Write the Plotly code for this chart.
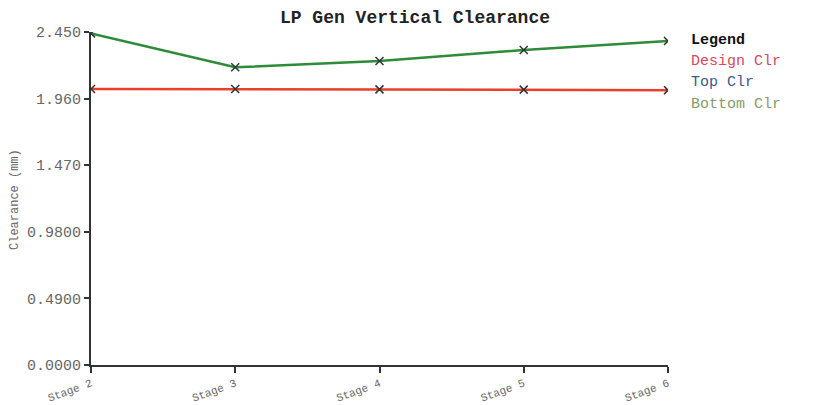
import plotly.graph_objects as go

stages = ["Stage 2", "Stage 3", "Stage 4", "Stage 5", "Stage 6"]
design_clr = [2.031, 2.030, 2.028, 2.026, 2.022]
bottom_clr = [2.440, 2.190, 2.237, 2.318, 2.384]
y_ticks = [0.0, 0.49, 0.98, 1.47, 1.96, 2.45]
y_tick_text = ["0.0000", "0.4900", "0.9800", "1.470", "1.960", "2.450"]
legend_items = ["Design Clr", "Top Clr", "Bottom Clr"]
legend_colors = ["#d9485a", "#3a5a8a", "#8a9a6a"]

font_fam = "Liberation Mono, Courier New, monospace"
x_idx = list(range(len(stages)))

# page body has an 8px margin: figure occupies absolute (8,8)-(814,405)
OFF = 8
W, H = 814 - OFF, 405 - OFF
PL, PR, PT, PB = 91, 668, 32, 365  # absolute plot-area edges

def to_paper(px, py):
    return (px - PL) / (PR - PL), (PB - py) / (PB - PT)

fig = go.Figure()
fig.add_trace(go.Scatter(
    x=x_idx, y=bottom_clr, mode="lines+markers", name="Bottom Clr",
    line=dict(color="#2e8b3a", width=2.5),
    marker=dict(symbol="x-thin", size=8, line=dict(color="#333333", width=1.5)),
))
fig.add_trace(go.Scatter(
    x=x_idx, y=design_clr, mode="lines+markers", name="Design Clr",
    line=dict(color="#e8402a", width=2.5),
    marker=dict(symbol="x-thin", size=8, line=dict(color="#333333", width=1.5)),
))

anns = []
x0, y0 = to_paper(689, 40)
anns.append(dict(text="<b>Legend</b>", x=x0, y=y0, xref="paper", yref="paper",
                 xanchor="left", yanchor="middle", showarrow=False,
                 font=dict(size=15, color="#111111", family=font_fam)))
for i, (t, c) in enumerate(zip(legend_items, legend_colors)):
    xx, yy = to_paper(689, 61 + 21.5 * i)
    anns.append(dict(text=t, x=xx, y=yy, xref="paper", yref="paper",
                     xanchor="left", yanchor="middle", showarrow=False,
                     font=dict(size=15, color=c, family=font_fam)))
xt, yt = to_paper(15, 200)
anns.append(dict(text="Clearance (mm)", x=xt, y=yt, xref="paper", yref="paper",
                 xanchor="center", yanchor="middle", showarrow=False, textangle=-90,
                 font=dict(size=12, color="#666666", family=font_fam)))

fig.update_layout(
    width=W, height=H,
    margin=dict(l=PL - OFF, r=814 - PR, t=PT - OFF, b=405 - PB, pad=0),
    paper_bgcolor="white", plot_bgcolor="white",
    showlegend=False,
    title=dict(text="<b>LP Gen Vertical Clearance</b>",
               x=(415 - OFF) / W, xanchor="center",
               y=(405 - 17) / H, yanchor="middle",
               font=dict(size=18, color="#222222", family=font_fam)),
    font=dict(family=font_fam, color="#555555"),
    annotations=anns,
)
fig.update_xaxes(
    range=[0, 4], tickvals=x_idx, ticktext=stages, tickangle=-20,
    showgrid=False, zeroline=False, showline=True, linecolor="#333333", linewidth=2,
    ticks="outside", ticklen=6, tickwidth=2, tickcolor="#333333",
    tickfont=dict(size=11, color="#666666", family=font_fam),
    automargin=False,
)
fig.update_yaxes(
    range=[0, 2.45], tickvals=y_ticks, ticktext=y_tick_text,
    showgrid=False, zeroline=False, showline=True, linecolor="#333333", linewidth=2,
    ticks="outside", ticklen=5, tickwidth=2, tickcolor="#333333",
    tickfont=dict(size=15, color="#666666", family=font_fam),
    automargin=False,
)
fig.write_html("out.html")
